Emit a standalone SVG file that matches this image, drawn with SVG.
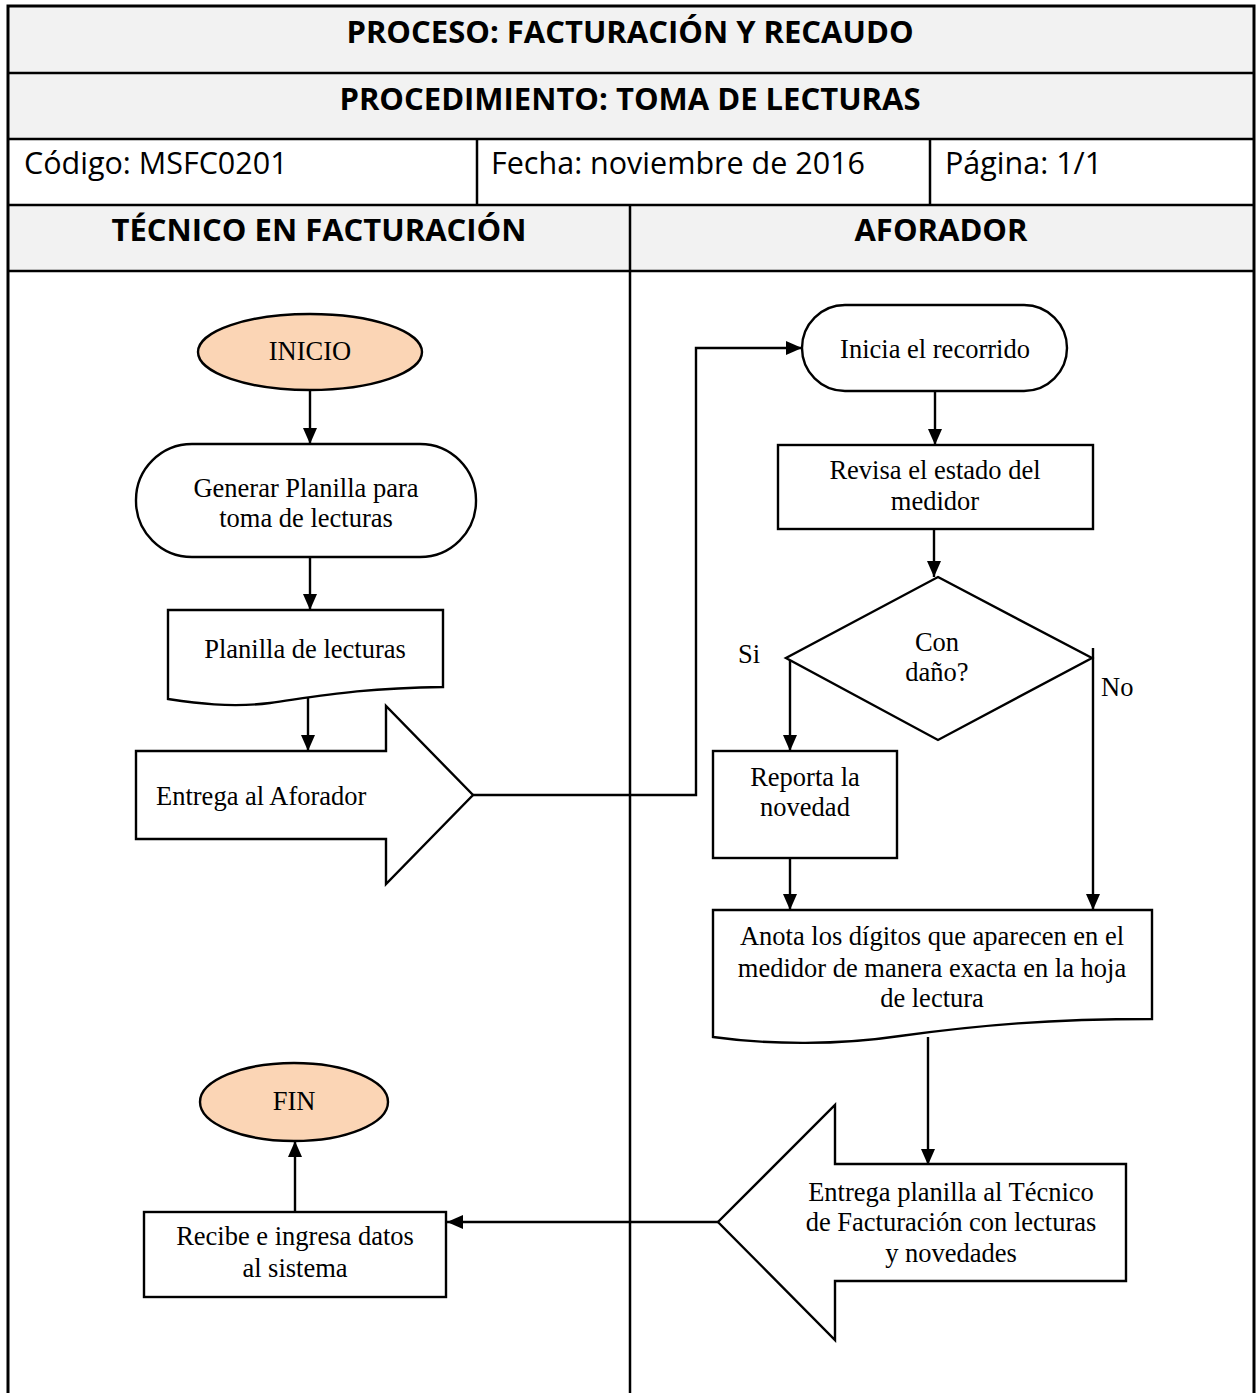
<svg xmlns="http://www.w3.org/2000/svg" width="1259" height="1393" viewBox="0 0 1259 1393">
  <defs>
    <marker id="arrow" viewBox="0 0 16 14" refX="16" refY="7" markerWidth="16" markerHeight="14" markerUnits="userSpaceOnUse" orient="auto">
      <path d="M0,0 L16,7 L0,14 Z" fill="#000"/>
    </marker>
    <style>
      .hdr { fill: #f2f2f2; }
      .grid { stroke: #000; stroke-width: 2.5; fill: none; }
      .title { font-family: "Open Sans", "Noto Sans", "DejaVu Sans", sans-serif; font-weight: bold; font-size: 31px; fill: #000; text-anchor: middle; }
      .meta { font-family: "Open Sans", "Noto Sans", "DejaVu Sans", sans-serif; font-size: 30.5px; fill: #000; }
      .shape { fill: #fff; stroke: #000; stroke-width: 2.4; }
      .term { fill: #fbd5b5; stroke: #000; stroke-width: 2.4; }
      .lbl { font-family: "Liberation Serif", "Times New Roman", serif; font-size: 26.5px; fill: #000; text-anchor: middle; }
      .lbl-start { font-family: "Liberation Serif", "Times New Roman", serif; font-size: 26.5px; fill: #000; }
      .conn { fill: none; stroke: #000; stroke-width: 2.4; }
    </style>
  </defs>

  <rect width="1259" height="1393" fill="#fff"/>

  <!-- header table -->
  <g id="header">
    <rect class="hdr" x="8" y="6" width="1246" height="133"/>
    <rect class="hdr" x="8" y="205" width="1246" height="66"/>
    <line class="grid" x1="8" y1="73" x2="1254" y2="73"/>
    <line class="grid" x1="8" y1="139" x2="1254" y2="139"/>
    <line class="grid" x1="8" y1="205" x2="1254" y2="205"/>
    <line class="grid" x1="8" y1="271" x2="1254" y2="271"/>
    <line class="grid" x1="477" y1="139" x2="477" y2="205"/>
    <line class="grid" x1="930" y1="139" x2="930" y2="205"/>
    <line class="grid" x1="630" y1="205" x2="630" y2="1393"/>
    <path d="M8,1393 V6 H1254 V1393" fill="none" stroke="#000" stroke-width="3"/>
    <text class="title" x="630" y="43">PROCESO: FACTURACIÓN Y RECAUDO</text>
    <text class="title" x="630" y="110">PROCEDIMIENTO: TOMA DE LECTURAS</text>
    <text class="meta" x="24" y="174">Código: MSFC0201</text>
    <text class="meta" x="491" y="174">Fecha: noviembre de 2016</text>
    <text class="meta" x="945" y="174">Página: 1/1</text>
    <text class="title" x="319" y="241">TÉCNICO EN FACTURACIÓN</text>
    <text class="title" x="941" y="241">AFORADOR</text>
  </g>

  <!-- connectors -->
  <g id="connectors">
    <line class="conn" x1="310" y1="390" x2="310" y2="444" marker-end="url(#arrow)"/>
    <line class="conn" x1="310" y1="557" x2="310" y2="610" marker-end="url(#arrow)"/>
    <line class="conn" x1="308" y1="695" x2="308" y2="751" marker-end="url(#arrow)"/>
    <polyline class="conn" points="473,795 696,795 696,348 802,348" marker-end="url(#arrow)"/>
    <line class="conn" x1="935" y1="391" x2="935" y2="445" marker-end="url(#arrow)"/>
    <line class="conn" x1="934" y1="529" x2="934" y2="577" marker-end="url(#arrow)"/>
    <line class="conn" x1="790" y1="658" x2="790" y2="751" marker-end="url(#arrow)"/>
    <line class="conn" x1="1093" y1="648" x2="1093" y2="910" marker-end="url(#arrow)"/>
    <line class="conn" x1="790" y1="858" x2="790" y2="910" marker-end="url(#arrow)"/>
    <line class="conn" x1="928" y1="1037" x2="928" y2="1165" marker-end="url(#arrow)"/>
    <line class="conn" x1="718" y1="1222" x2="447" y2="1222" marker-end="url(#arrow)"/>
    <line class="conn" x1="295" y1="1212" x2="295" y2="1141" marker-end="url(#arrow)"/>
  </g>

  <!-- Técnico en facturación lane -->
  <g id="inicio">
    <ellipse class="term" cx="310" cy="352" rx="112" ry="38"/>
    <text class="lbl" x="310" y="360">INICIO</text>
  </g>
  <g id="generar-planilla">
    <rect class="shape" x="136" y="444" width="340" height="113" rx="56" ry="56"/>
    <text class="lbl" x="306" y="497">Generar Planilla para</text>
    <text class="lbl" x="306" y="527">toma de lecturas</text>
  </g>
  <g id="planilla-lecturas">
    <path class="shape" d="M168,610 H443 V687 C360,688 320,696 270,703 C230,708 195,703 168,699 Z"/>
    <text class="lbl" x="305" y="658">Planilla de lecturas</text>
  </g>
  <g id="entrega-aforador">
    <path class="shape" d="M136,751 H386 V706 L473,795 L386,884 V839 H136 Z"/>
    <text class="lbl-start" x="156" y="805">Entrega al Aforador</text>
  </g>
  <g id="recibe-datos">
    <rect class="shape" x="144" y="1212" width="302" height="85"/>
    <text class="lbl" x="295" y="1245">Recibe e ingresa datos</text>
    <text class="lbl" x="295" y="1277">al sistema</text>
  </g>
  <g id="fin">
    <ellipse class="term" cx="294" cy="1102" rx="94" ry="39"/>
    <text class="lbl" x="294" y="1110">FIN</text>
  </g>

  <!-- Aforador lane -->
  <g id="inicia-recorrido">
    <rect class="shape" x="802" y="305" width="265" height="86" rx="43" ry="43"/>
    <text class="lbl" x="935" y="358">Inicia el recorrido</text>
  </g>
  <g id="revisa-estado">
    <rect class="shape" x="778" y="445" width="315" height="84"/>
    <text class="lbl" x="935" y="479">Revisa el estado del</text>
    <text class="lbl" x="935" y="510">medidor</text>
  </g>
  <g id="con-dano">
    <polygon class="shape" points="938,577 1092,658 938,740 786,658"/>
    <text class="lbl" x="937" y="651">Con</text>
    <text class="lbl" x="937" y="681">daño?</text>
    <text class="lbl-start" x="738" y="663">Si</text>
    <text class="lbl-start" x="1101" y="696">No</text>
  </g>
  <g id="reporta-novedad">
    <rect class="shape" x="713" y="751" width="184" height="107"/>
    <text class="lbl" x="805" y="786">Reporta la</text>
    <text class="lbl" x="805" y="816">novedad</text>
  </g>
  <g id="anota-digitos">
    <path class="shape" d="M713,910 H1152 V1019 C1050,1019 980,1025 900,1036 C840,1045 770,1045 713,1037 Z"/>
    <text class="lbl" x="932" y="945">Anota los dígitos que aparecen en el</text>
    <text class="lbl" x="932" y="977">medidor de manera exacta en la hoja</text>
    <text class="lbl" x="932" y="1007">de lectura</text>
  </g>
  <g id="entrega-planilla">
    <path class="shape" d="M1126,1164 H835 V1105 L718,1222 L835,1340 V1281 H1126 Z"/>
    <text class="lbl" x="951" y="1201">Entrega planilla al Técnico</text>
    <text class="lbl" x="951" y="1231">de Facturación con lecturas</text>
    <text class="lbl" x="951" y="1262">y novedades</text>
  </g>
</svg>
